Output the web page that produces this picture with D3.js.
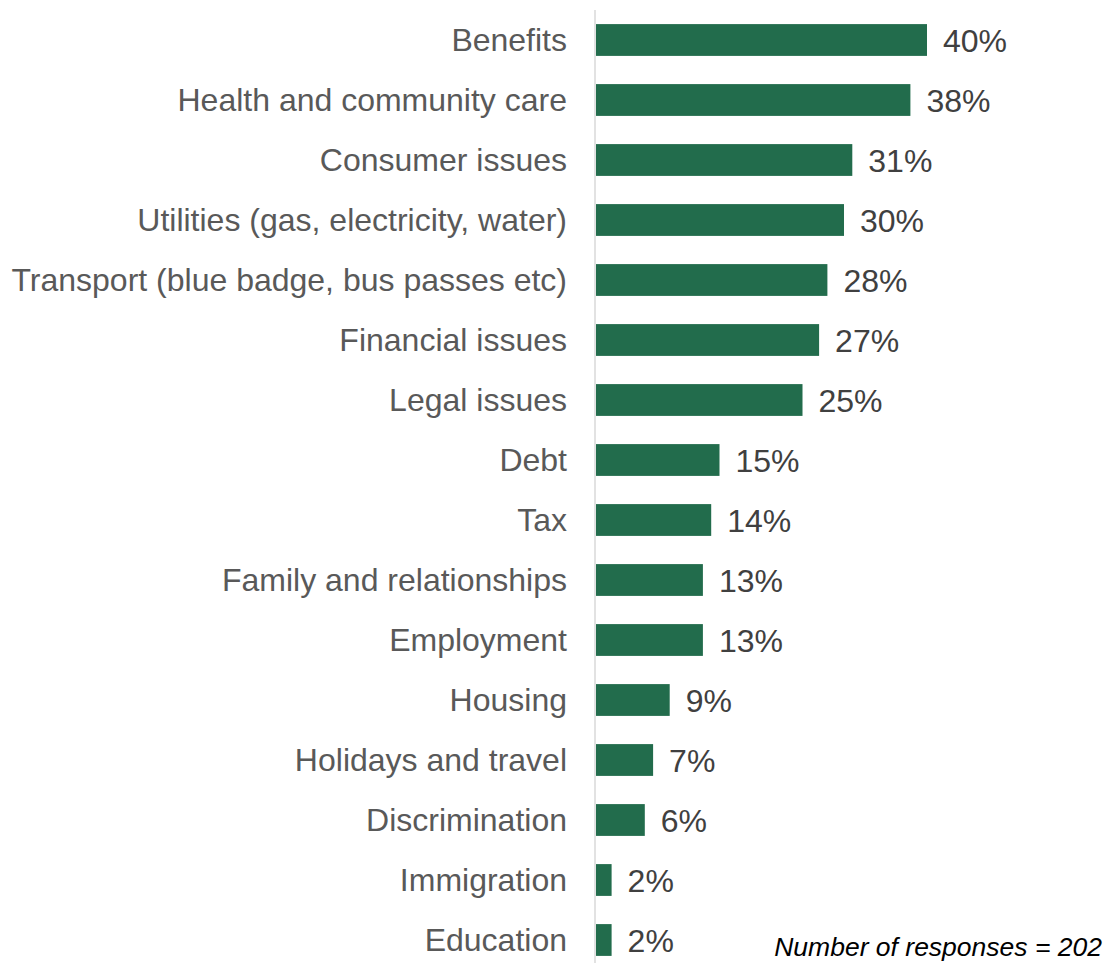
<!DOCTYPE html>
<html>
<head>
<meta charset="utf-8">
<script src="https://cdn.jsdelivr.net/npm/d3@7"></script>
<style>
  html, body { margin: 0; padding: 0; background: #fff; }
  svg { display: block; }
</style>
</head>
<body>
<svg id="chart" width="1113" height="963"></svg>
<script>
// Share of respondents reporting each type of enquiry
const categories = [
  "Benefits",
  "Health and community care",
  "Consumer issues",
  "Utilities (gas, electricity, water)",
  "Transport (blue badge, bus passes etc)",
  "Financial issues",
  "Legal issues",
  "Debt",
  "Tax",
  "Family and relationships",
  "Employment",
  "Housing",
  "Holidays and travel",
  "Discrimination",
  "Immigration",
  "Education"
];
const values = [40, 38, 31, 30, 28, 27, 25, 15, 14, 13, 13, 9, 7, 6, 2, 2];
const footnote = "Number of responses = 202";

const svg = d3.select("#chart");
const axisX = 595;
const fontFamily = "Arial, 'Liberation Sans', sans-serif";

const x = d3.scaleLinear().domain([0, 40]).range([axisX, 927]);
const y = d3.scaleBand()
  .domain(categories)
  .range([10, 970])
  .paddingInner(0.47)
  .paddingOuter(0.235);

// category axis line
svg.append("line")
  .attr("x1", axisX).attr("x2", axisX)
  .attr("y1", 10).attr("y2", 963)
  .attr("stroke", "#d9d9d9")
  .attr("stroke-width", 1.5);

const rows = categories.map((c, i) => ({ cat: c, val: values[i] }));

svg.selectAll("rect.bar")
  .data(rows)
  .join("rect")
  .attr("class", "bar")
  .attr("x", axisX + 1)
  .attr("y", d => y(d.cat))
  .attr("width", d => x(d.val) - axisX - 1)
  .attr("height", y.bandwidth())
  .attr("fill", "#226c4c");

svg.selectAll("text.cat")
  .data(rows)
  .join("text")
  .attr("class", "cat")
  .attr("x", 567)
  .attr("y", d => y(d.cat) + y.bandwidth() / 2)
  .attr("dy", "0.35em")
  .attr("text-anchor", "end")
  .attr("font-family", fontFamily)
  .attr("font-size", 32)
  .attr("fill", "#595959")
  .text(d => d.cat);

svg.selectAll("text.val")
  .data(rows)
  .join("text")
  .attr("class", "val")
  .attr("x", d => x(d.val) + 16)
  .attr("y", d => y(d.cat) + y.bandwidth() / 2 + 1)
  .attr("dy", "0.35em")
  .attr("font-family", fontFamily)
  .attr("font-size", 32)
  .attr("fill", "#404040")
  .text(d => d.val + "%");

svg.append("text")
  .attr("x", 1102)
  .attr("y", 956)
  .attr("text-anchor", "end")
  .attr("font-family", fontFamily)
  .attr("font-style", "italic")
  .attr("font-size", 26.5)
  .attr("fill", "#000")
  .text(footnote);
</script>
</body>
</html>
